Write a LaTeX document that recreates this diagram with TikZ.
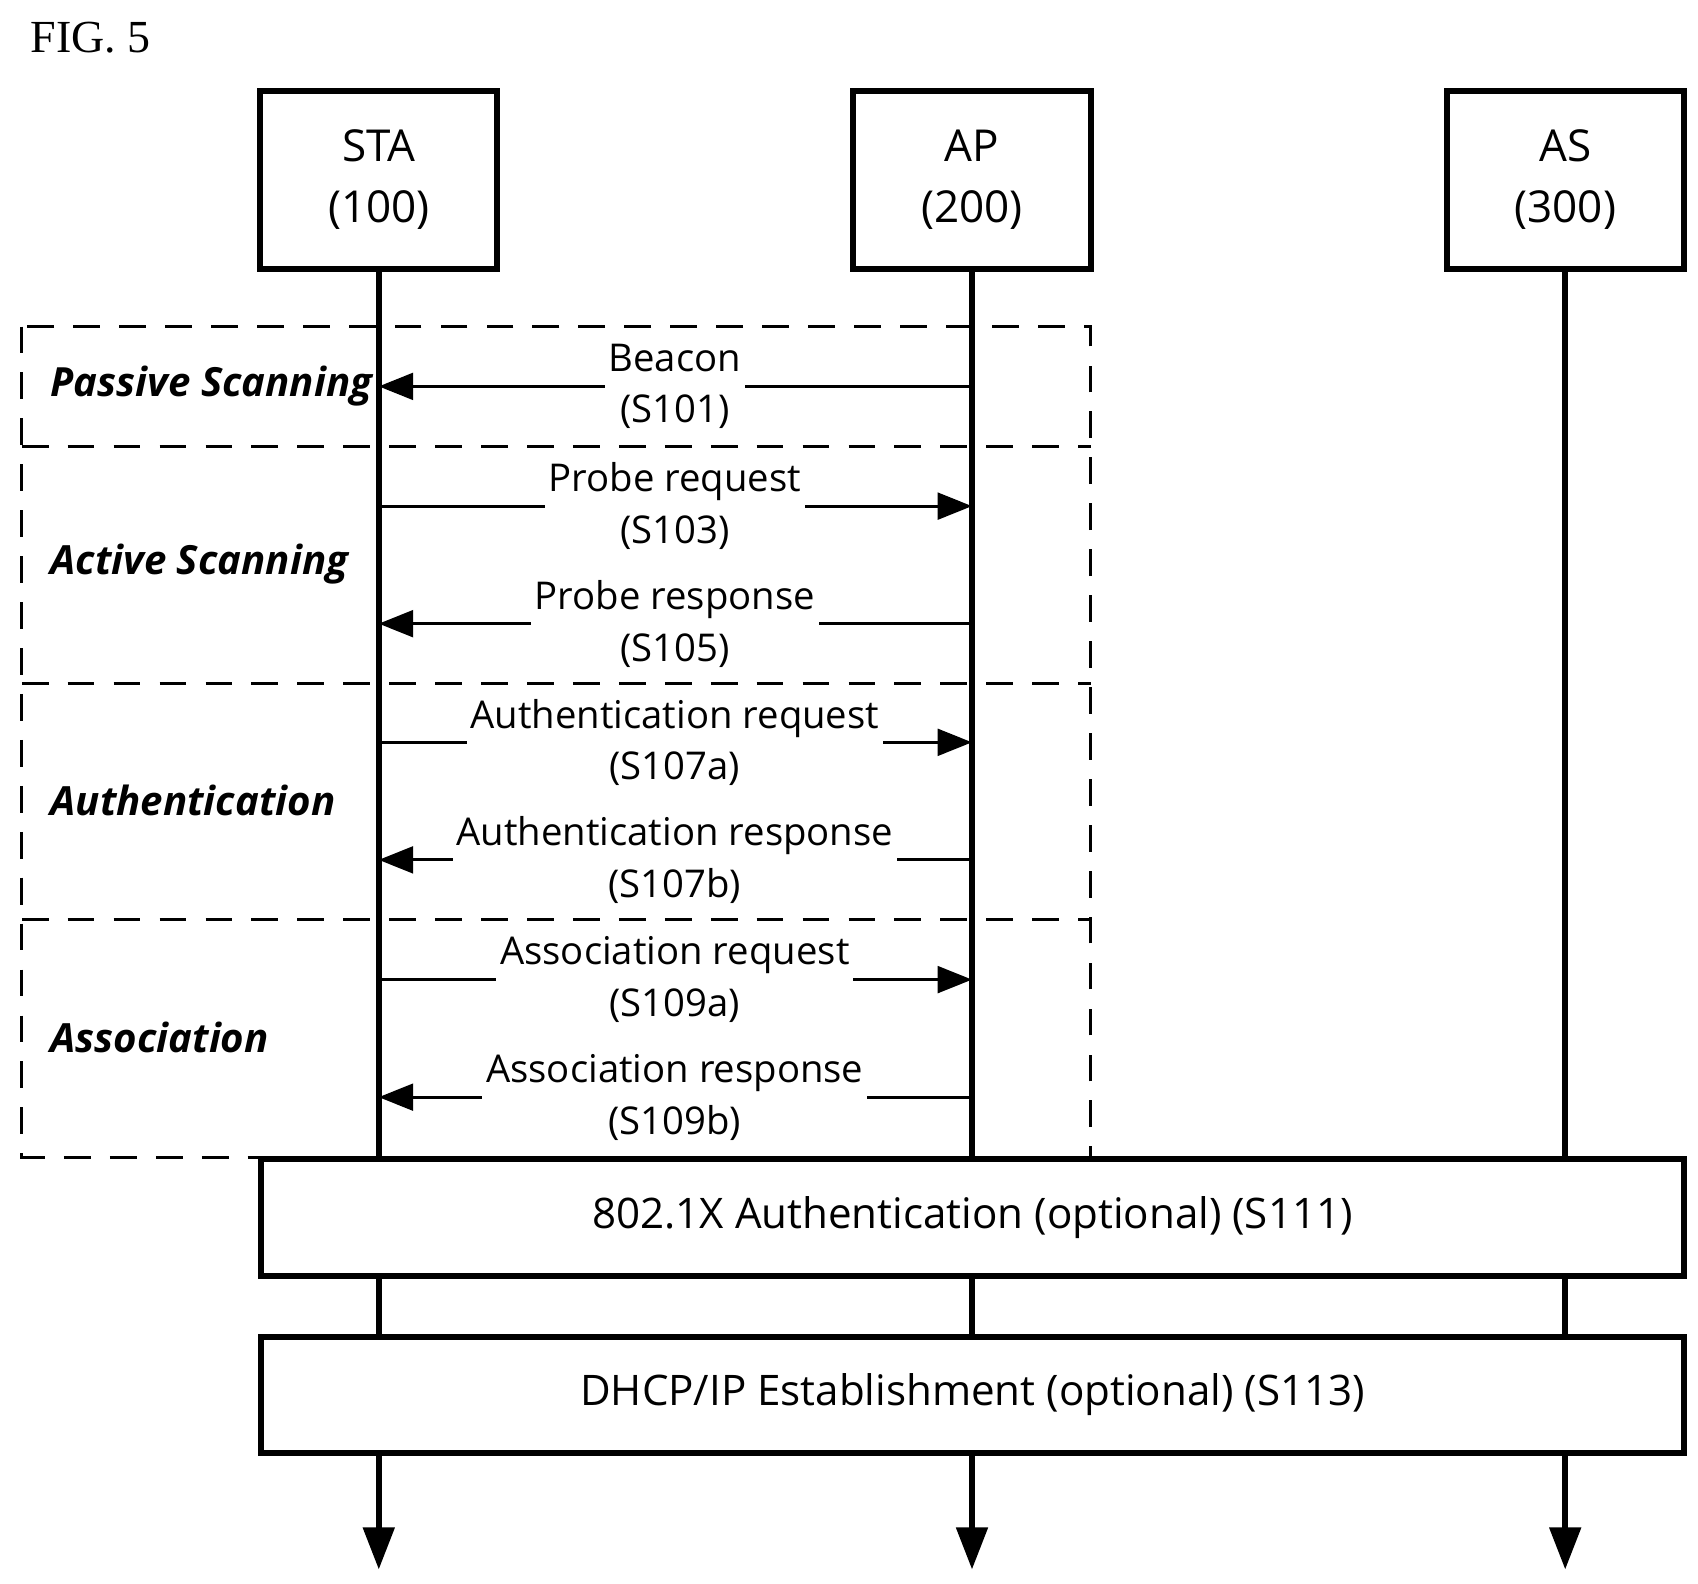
\documentclass[tikz,border=0pt]{standalone}
\usepackage{fontspec}
\setmainfont{Open Sans}
\usetikzlibrary{arrows.meta}
\begin{document}
\begin{tikzpicture}[x=0.01cm,y=-0.01cm,
  life/.style={line width=1.6pt},
  msg/.style={line width=0.8pt,-{Triangle[length=9pt,width=7pt]}},
  lab/.style={fill=white,inner sep=1pt,align=center,font=\fontsize{10}{13.5}\selectfont},
  sec/.style={anchor=west,font=\fontsize{10.5}{12}\selectfont\bfseries\itshape},
  dsh/.style={dashed,dash pattern=on 7pt off 5pt,line width=0.8pt},
  bar/.style={draw,line width=1.6pt,fill=white,font=\fontsize{11}{14}\selectfont}]
\useasboundingbox (0,0) rectangle (1560,1455);
\node[anchor=west,font=\fontsize{12}{14}\selectfont] (fig) at (16,35) {\fontspec{Liberation Serif}FIG. 5};
\foreach \n/\x/\t in {sta/348/{STA\\(100)},ap/893/{AP\\(200)},as/1438/{AS\\(300)}}{
  \draw[line width=1.6pt] (\x-109,84) rectangle (\x+109,247);
  \node[align=center,font=\fontsize{11.5}{16}\selectfont] (\n) at (\x,165) {\t};
  \coordinate (\n top) at (\x,247);
  \coordinate (\n end) at (\x,1442);
}
\draw[dsh] (20,300) rectangle (1002,1063);
\foreach \y in {410,628,845} \draw[dsh] (20,\y) -- (1002,\y);
\foreach \n in {sta,ap,as}
  \draw[life,-{Triangle[length=11pt,width=8pt]}] (\n top) -- (\n end);
\foreach \y/\d/\t in {355/l/{Beacon\\(S101)},465/r/{Probe request\\(S103)},573/l/{Probe response\\(S105)},
  682/r/{Authentication request\\(S107a)},790/l/{Authentication response\\(S107b)},
  900/r/{Association request\\(S109a)},1008/l/{Association response\\(S109b)}}{
  \coordinate (s\y) at (348,\y); \coordinate (a\y) at (893,\y);
  \if\d l \draw[msg] (a\y) -- (s\y); \else \draw[msg] (s\y) -- (a\y); \fi
  \node[lab] (m\y) at (620,\y) {\t};
}
\node[sec] (p1) at (34,355) {Passive Scanning};
\node[sec] (p2) at (34,518) {Active Scanning};
\node[sec] (p3) at (34,735) {Authentication};
\node[sec] (p4) at (34,953) {Association};
\node[bar,minimum width=13.07cm,minimum height=1.07cm] (b1) at (893.5,1118.5) {802.1X Authentication (optional) (S111)};
\node[bar,minimum width=13.07cm,minimum height=1.07cm] (b2) at (893.5,1281.5) {DHCP/IP Establishment (optional) (S113)};
\end{tikzpicture}
\end{document}
